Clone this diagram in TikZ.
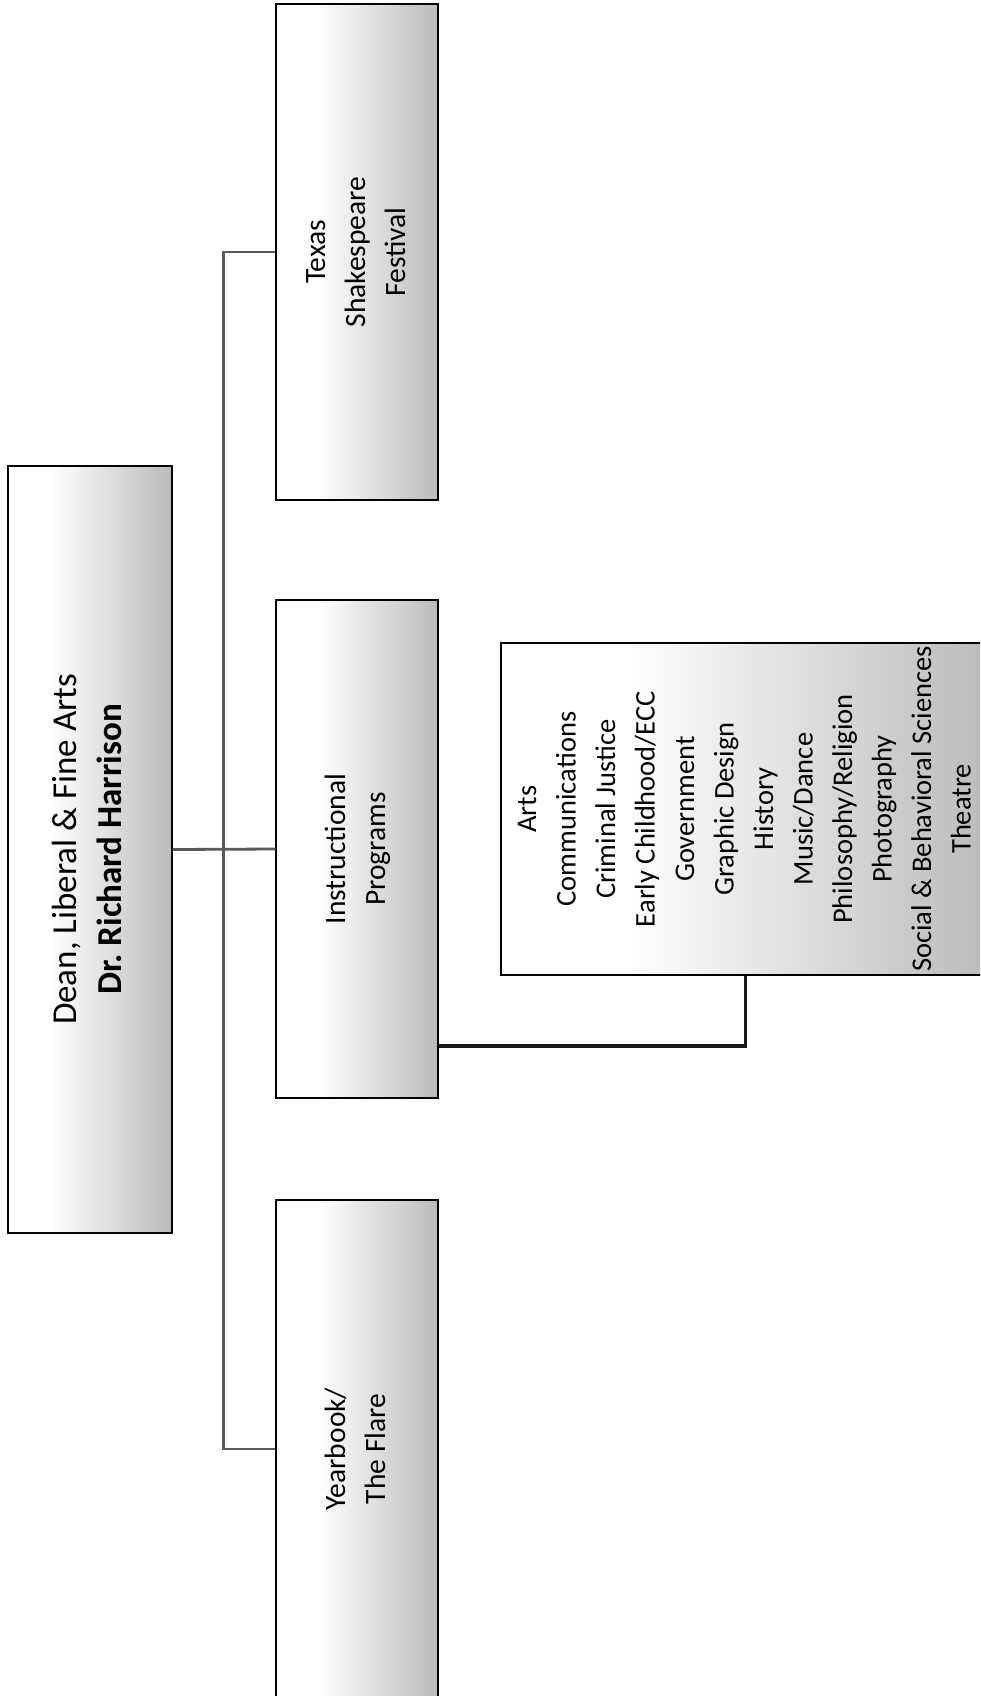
\documentclass[tikz,border=0pt]{standalone}
\usepackage{fontspec}
\setmainfont{Carlito}
\usepackage{graphicx}
\usepackage{tikz}
\usetikzlibrary{positioning}
\pgfdeclarehorizontalshading{boxshade}{100bp}{color(0bp)=(white); color(38bp)=(white); color(100bp)=(black!45)}
\tikzset{
  orgbox/.style={draw=black, line width=1.3pt, shading=boxshade, inner sep=0pt},
  link/.style={draw=black!65, line width=2.8pt},
  linkdark/.style={draw=black!90, line width=3.2pt}
}
\newcommand{\boxtext}[1]{\rotatebox{90}{\begin{tabular}{@{}c@{}}#1\end{tabular}}}

\begin{document}
\begin{tikzpicture}[x=1pt, y=-1pt]
\useasboundingbox (0,0) rectangle (980,1696);
\clip (0,0) rectangle (980,1696);
% Dean
\node[orgbox, minimum width=164pt, minimum height=767pt] (dean) at (90,849.5)
  {\fontsize{35}{45}\selectfont\boxtext{Dean, Liberal \& Fine Arts\\\textbf{Dr.\ Richard Harrison}}};

% Units under the dean
\node[orgbox, minimum width=162pt, minimum height=496pt] (texas) at (357,252)
  {\fontsize{29.5}{40}\selectfont\boxtext{Texas\\Shakespeare\\Festival}};
\node[orgbox, minimum width=162pt, minimum height=498pt] (instr) at (357,849)
  {\fontsize{29.5}{40}\selectfont\boxtext{Instructional\\Programs}};
\node[orgbox, minimum width=162pt, minimum height=498pt] (yearbook) at (357,1449)
  {\fontsize{29.5}{40}\selectfont\boxtext{Yearbook/\\The Flare}};

% Departments
\node[orgbox, minimum width=489pt, minimum height=332pt] (depts) at (745.5,809)
  {\fontsize{28.5}{39.5}\selectfont\boxtext{Arts\\Communications\\Criminal Justice\\Early Childhood/ECC\\Government\\Graphic Design\\History\\Music/Dance\\Philosophy/Religion\\Photography\\Social \& Behavioral Sciences\\Theatre}};

% Connectors
\draw[link] (dean.east) -- (instr.west);
\draw[link] (texas.west) -- ++(-52,0) |- (yearbook.west);
\draw[linkdark] (instr.east |- 0,1046) -| (depts.south);
\end{tikzpicture}
\end{document}
